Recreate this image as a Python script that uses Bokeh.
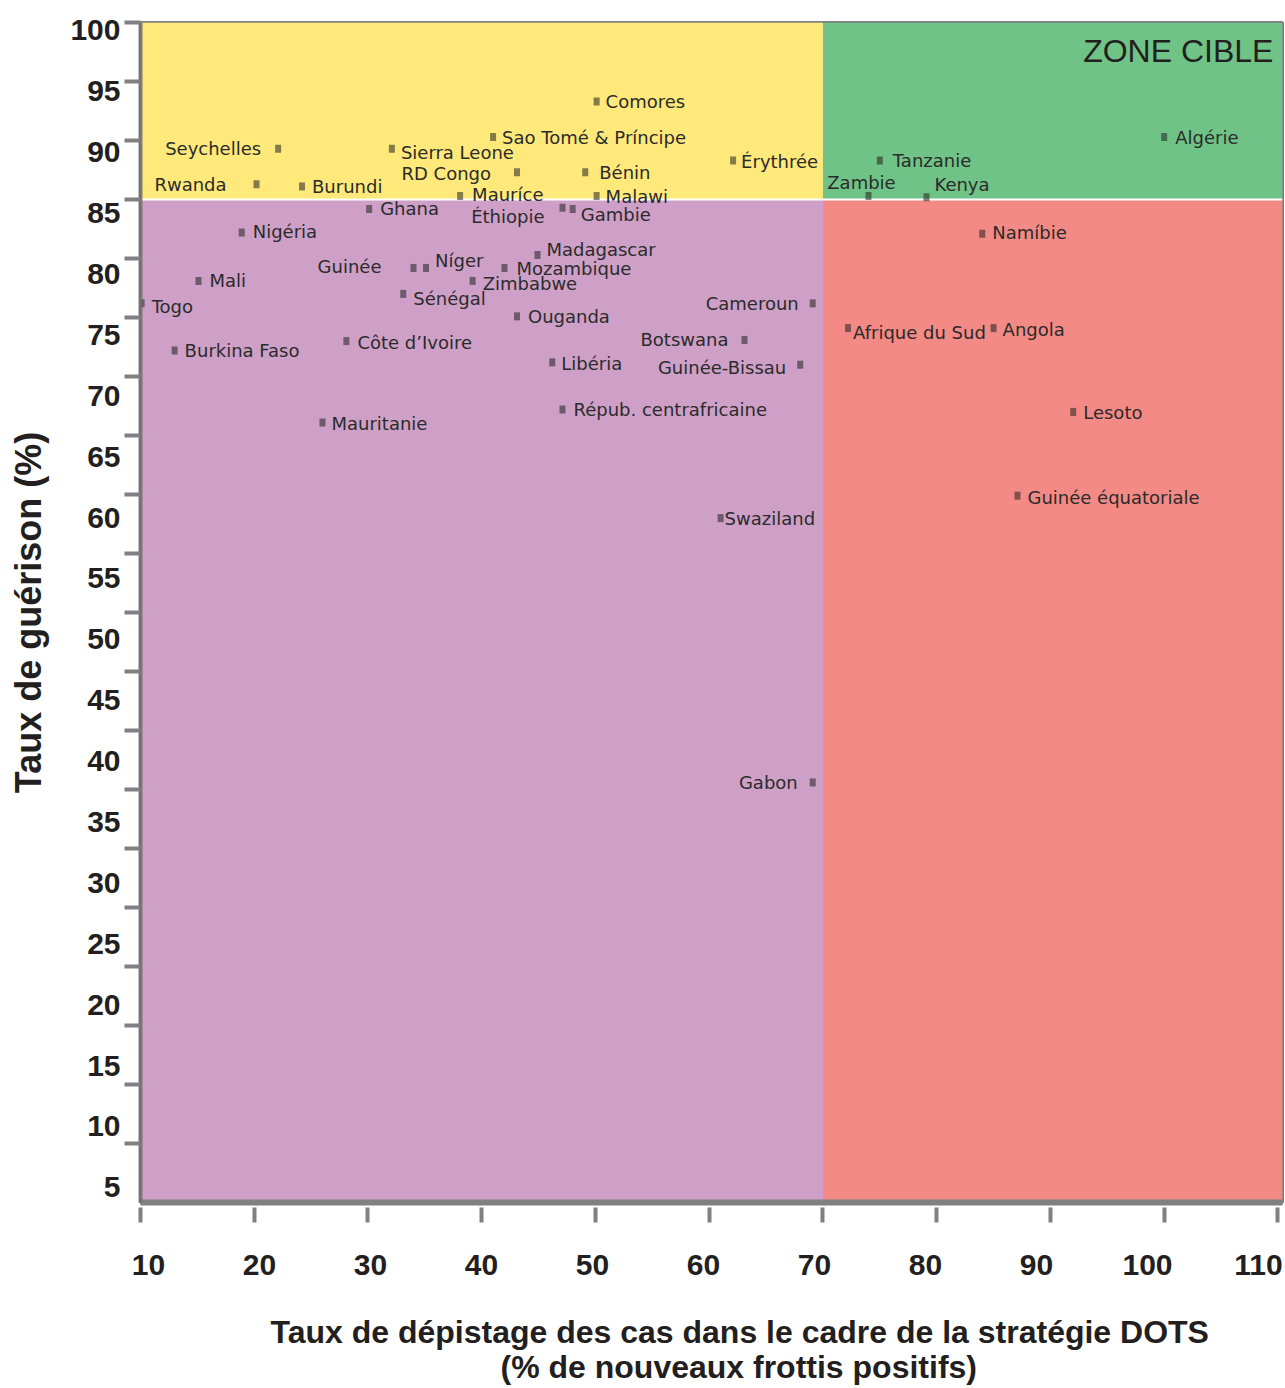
from bokeh.plotting import figure
from bokeh.models import Range1d, LinearAxis, FixedTicker, Label, Title, ColumnDataSource
from bokeh.embed import file_html
from bokeh.resources import INLINE
from bokeh.core.properties import value

# ---------------- data ----------------
countries = ["Comores", "Sao Tomé & Príncipe", "Seychelles", "Sierra Leone", "RD Congo", "Bénin",
             "Érythrée", "Rwanda", "Burundi", "Mauríce", "Malawi", "Ghana", "Éthiopie", "Gambie",
             "Nigéria", "Madagascar", "Guinée", "Níger", "Mozambique", "Mali", "Zimbabwe", "Sénégal",
             "Togo", "Cameroun", "Ouganda", "Côte d’Ivoire", "Burkina Faso", "Botswana", "Libéria",
             "Guinée-Bissau", "Répub. centrafricaine", "Mauritanie", "Swaziland", "Gabon", "Algérie",
             "Tanzanie", "Zambie", "Kenya", "Namíbie", "Afrique du Sud", "Angola", "Lesoto",
             "Guinée équatoriale"]
detection = [50.1, 41.0, 22.1, 32.1, 43.1, 49.1, 62.1, 20.2, 24.2, 38.1, 50.1, 30.1, 47.1, 48.0,
             18.9, 44.9, 34.0, 35.1, 42.0, 15.1, 39.2, 33.1, 10.1, 69.1, 43.1, 28.1, 13.0, 63.1,
             46.2, 68.0, 47.1, 26.0, 61.0, 69.1, 100.0, 75.0, 74.0, 79.1, 84.0, 72.2, 85.0, 92.0,
             87.1]
cure = [93.3, 90.3, 89.3, 89.3, 87.3, 87.3, 88.3, 86.3, 86.1, 85.3, 85.3, 84.2, 84.3, 84.2,
        82.2, 80.3, 79.2, 79.2, 79.2, 78.1, 78.1, 77.0, 76.2, 76.2, 75.1, 73.0, 72.2, 73.1,
        71.2, 71.0, 67.2, 66.1, 58.0, 35.6, 90.3, 88.3, 85.3, 85.2, 82.1, 74.1, 74.1, 67.0,
        59.9]

detection_target = 70
cure_target = 85
x_ticks = [10, 20, 30, 40, 50, 60, 70, 80, 90, 100, 110]
y_ticks = [5, 10, 15, 20, 25, 30, 35, 40, 45, 50, 55, 60, 65, 70, 75, 80, 85, 90, 95, 100]
zone_text = "ZONE CIBLE"
x_title_1 = "Taux de dépistage des cas dans le cadre de la stratégie DOTS"
x_title_2 = "(% de nouveaux frottis positifs)"
y_title = "Taux de guérison (%)"

# ---------------- label layout (side, dx px, dy px) ----------------
label_layout = {
    "Comores": ("r", 9, 0), "Sao Tomé & Príncipe": ("r", 9, 1), "Seychelles": ("l", -17, 0),
    "Sierra Leone": ("r", 9, 4), "RD Congo": ("l", -26, 1), "Bénin": ("r", 14, 0),
    "Érythrée": ("r", 8, 1), "Rwanda": ("l", -30, 0), "Burundi": ("r", 10, 0),
    "Mauríce": ("r", 12, -1), "Malawi": ("r", 9, 1), "Ghana": ("r", 11, 0),
    "Éthiopie": ("l", -18, 9), "Gambie": ("r", 8, 6), "Nigéria": ("r", 11, -1),
    "Madagascar": ("r", 9, -5), "Guinée": ("l", -32, -1), "Níger": ("r", 9, -7),
    "Mozambique": ("r", 12, 1), "Mali": ("r", 11, 0), "Zimbabwe": ("r", 10, 3),
    "Sénégal": ("r", 10, 5), "Togo": ("r", 10, 3), "Cameroun": ("l", -14, 0),
    "Ouganda": ("r", 11, 0), "Côte d’Ivoire": ("r", 11, 1), "Burkina Faso": ("r", 10, 0),
    "Botswana": ("l", -16, 0), "Libéria": ("r", 9, 1), "Guinée-Bissau": ("l", -14, 3),
    "Répub. centrafricaine": ("r", 11, 0), "Mauritanie": ("r", 9, 1), "Swaziland": ("r", 4, 0),
    "Gabon": ("l", -15, 0), "Algérie": ("r", 11, 1), "Tanzanie": ("r", 13, 0),
    "Zambie": ("c", -7, -13), "Kenya": ("r", 8, -13), "Namíbie": ("r", 10, -1),
    "Afrique du Sud": ("r", 5, 4), "Angola": ("r", 9, 1), "Lesoto": ("r", 10, 1),
    "Guinée équatoriale": ("r", 10, 2),
}

TXT = "#231f20"
GRAY = "#808080"

X_LO, X_HI = 10, 110.4
Y_LO, Y_HI = 0, 100

p = figure(width=1285, height=1388, x_range=Range1d(X_LO, X_HI), y_range=Range1d(Y_LO, Y_HI),
           output_backend="svg", toolbar_location=None, x_axis_type=None, y_axis_type=None,
           min_border_left=140, min_border_right=3, min_border_top=22, min_border_bottom=186,
           background_fill_color="white", border_fill_color="white")
p.grid.visible = False
p.outline_line_color = GRAY
p.outline_line_width = 3

# zones
zones = ColumnDataSource(dict(
    left=[X_LO, detection_target, X_LO, detection_target],
    right=[detection_target, X_HI, detection_target, X_HI],
    bottom=[cure_target, cure_target, Y_LO, Y_LO],
    top=[Y_HI, Y_HI, cure_target, cure_target],
    color=["#fee97a", "#70c386", "#cea0c7", "#f38a85"],
))
p.quad(left="left", right="right", bottom="bottom", top="top", fill_color="color",
       line_color=None, source=zones)
p.hspan(y=[cure_target], line_color="white", line_width=2)

# markers
pts = ColumnDataSource(dict(x=detection, y=cure, name=countries))
p.rect(x="x", y="y", width=6, height=8, width_units="screen", height_units="screen",
       fill_color="#202020", fill_alpha=0.55, line_color=None, source=pts)

# country labels
for side, align in (("r", "left"), ("l", "right"), ("c", "center")):
    xs, ys, names, dxs, dys = [], [], [], [], []
    for c, xv, yv in zip(countries, detection, cure):
        s, dx, dy = label_layout[c]
        if s == side:
            xs.append(xv); ys.append(yv); names.append(c); dxs.append(dx); dys.append(dy)
    src = ColumnDataSource(dict(x=xs, y=ys, text=names, dx=dxs, dy=dys))
    p.text(x="x", y="y", text="text", x_offset="dx", y_offset="dy", source=src,
           text_align=align, text_baseline="middle", text_font_size="18px",
           text_font=value("DejaVu Sans"), text_color="#2b2b2b")

p.add_layout(Label(x=109.6, y=97.6, text=zone_text, text_align="right", text_baseline="middle",
                   text_font_size="32px", text_font="Liberation Sans", text_color=TXT))

# y axes: tick marks (data scale) + labels
yax = LinearAxis(ticker=FixedTicker(ticks=y_ticks), major_tick_out=16, major_tick_in=0,
                 major_tick_line_color=GRAY, major_tick_line_width=4, minor_tick_line_color=None,
                 axis_line_color="#6e6e6e", axis_line_alpha=0.85, axis_line_width=4,
                 major_label_overrides={t: "" for t in y_ticks},
                 major_label_text_font_size="1px", major_label_standoff=0)
p.add_layout(yax, "left")

p.extra_y_ranges = {"lbl": Range1d(3.75, 100.65)}
ylab = LinearAxis(y_range_name="lbl", ticker=FixedTicker(ticks=y_ticks), axis_line_color=None,
                  major_tick_line_color=None, minor_tick_line_color=None, major_tick_out=0,
                  major_tick_in=0, major_label_standoff=4,
                  major_label_text_font="Liberation Sans", major_label_text_font_style="bold",
                  major_label_text_font_size="30px", major_label_text_color=TXT,
                  axis_label=y_title, axis_label_text_font="Liberation Sans",
                  axis_label_text_font_style="bold", axis_label_text_font_size="36px",
                  axis_label_text_color=TXT, axis_label_standoff=18)
p.add_layout(ylab, "left")

# x axes: tick marks (data scale) + labels
xax = LinearAxis(ticker=FixedTicker(ticks=x_ticks), major_tick_out=20, major_tick_in=-5,
                 major_tick_line_color=GRAY, major_tick_line_width=4, minor_tick_line_color=None,
                 axis_line_color=GRAY, axis_line_width=6,
                 major_label_overrides={t: "" for t in x_ticks},
                 major_label_text_font_size="1px", major_label_standoff=0)
p.add_layout(xax, "below")

p.extra_x_ranges = {"xlbl": Range1d(9.279, 112.162)}
xlab = LinearAxis(x_range_name="xlbl", ticker=FixedTicker(ticks=x_ticks), axis_line_color=None,
                  major_tick_line_color=None, minor_tick_line_color=None, major_tick_out=0,
                  major_tick_in=0, major_label_standoff=32,
                  major_label_text_font="Liberation Sans", major_label_text_font_style="bold",
                  major_label_text_font_size="30px", major_label_text_color=TXT)
p.add_layout(xlab, "below")

# x axis title, two lines
title_style = dict(text_font="Liberation Sans", text_font_style="bold", text_color=TXT,
                   text_font_size="32px", align="left")
p.add_layout(Title(text=x_title_1, offset=130, standoff=68, **title_style), "below")
p.add_layout(Title(text=x_title_2, offset=360, standoff=-70, vertical_align="top",
                   **title_style), "below")

open("out.html", "w").write(file_html(p, INLINE))
